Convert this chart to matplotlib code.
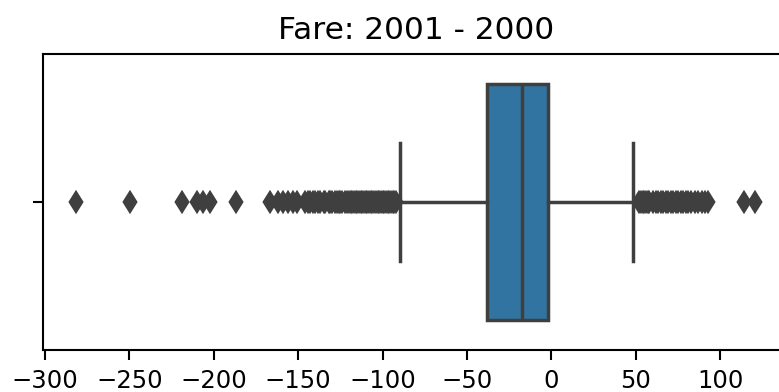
import matplotlib
matplotlib.use("Agg")
import matplotlib.pyplot as plt

# box statistics
title = "Fare: 2001 - 2000"
q1 = -37.9
median = -17.5
q3 = -2.0
whisker_low = -89.5
whisker_high = 48.6

# outliers, left then right of the whiskers
fliers_low = [-281.6, -249.8, -218.6, -209.9, -206.4, -202.2, -186.8,
              -166.6, -161.9, -158.9, -156.0, -153.0, -150.6,
              -146, -144, -143, -141, -140, -138, -137, -135, -134, -132,
              -131, -130, -128, -127, -126, -125, -124, -122, -121, -120,
              -119, -118, -117, -116, -115, -114, -113, -112, -111, -110,
              -109, -108, -107, -106, -105, -104, -103, -102, -101, -100,
              -99, -98, -97, -96, -95, -94, -93, -92]
fliers_high = [52, 53, 54, 55, 56, 57, 58, 60, 62, 63, 65, 66, 68, 69, 71,
               72, 74, 75, 77, 78, 80, 81, 83, 85, 87, 89, 91, 93, 114, 120.5]

xticks = [-300, -250, -200, -150, -100, -50, 0, 50, 100]

box_color = "#3274a1"
gray = "#3f3f3f"

fig = plt.figure(figsize=(7.79, 3.92), dpi=100)
ax = fig.add_axes([0.0556, 0.1071, 0.9577, 0.755])

stats = [{
    "med": median, "q1": q1, "q3": q3,
    "whislo": whisker_low, "whishi": whisker_high,
    "fliers": fliers_low + fliers_high,
}]

lw = 2.5
ax.bxp(stats, positions=[0], widths=0.8, orientation="horizontal",
       patch_artist=True, showcaps=True,
       boxprops=dict(facecolor=box_color, edgecolor=gray, linewidth=lw),
       medianprops=dict(color=gray, linewidth=lw),
       whiskerprops=dict(color=gray, linewidth=lw),
       capprops=dict(color=gray, linewidth=lw),
       flierprops=dict(marker="d", markersize=8.5, markerfacecolor=gray,
                       markeredgecolor=gray, markeredgewidth=3.2,
                       linestyle="none"))

ax.set_xlim(-301, 141)
ax.set_ylim(0.5, -0.5)
ax.set_xticks(xticks)
ax.set_xticklabels([str(t).replace("-", "\u2212") for t in xticks])
ax.set_yticks([0])
ax.set_yticklabels([""])

for s in ax.spines.values():
    s.set_linewidth(1.5)
ax.tick_params(labelsize=17.5, width=1.5, length=7, pad=6.5)
ax.set_title(title, fontsize=22.5, pad=11)

fig.savefig("out.png", dpi=100)
